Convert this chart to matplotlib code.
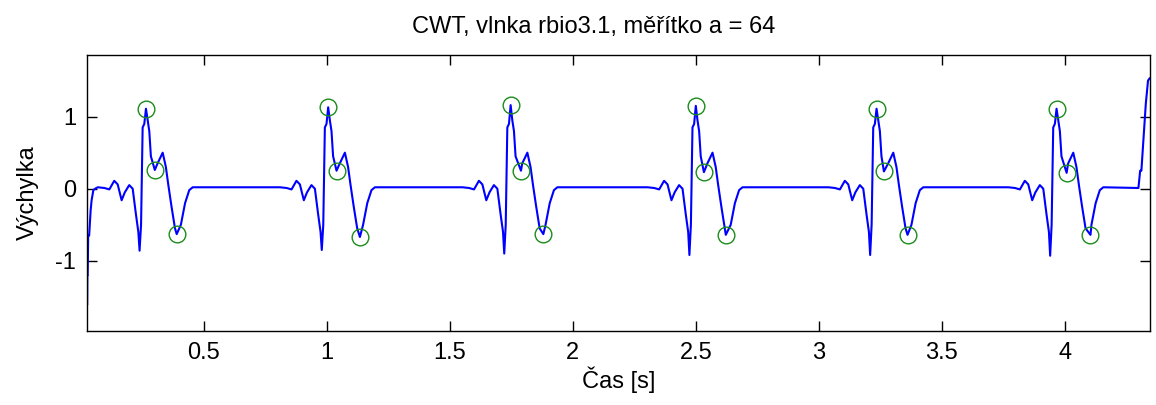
import numpy as np
import matplotlib
matplotlib.use("Agg")
import matplotlib.pyplot as plt

plt.rcParams['font.family'] = ['Liberation Sans', 'DejaVu Sans']

# Detected points per beat: R peak, notch after R, and S minimum
r_t = [0.264, 1.005, 1.747, 2.500, 3.235, 3.967]
r_v = [1.11, 1.13, 1.16, 1.15, 1.11, 1.11]
notch_t = [0.300, 1.039, 1.789, 2.533, 3.265, 4.008]
notch_v = [0.26, 0.25, 0.25, 0.23, 0.24, 0.22]
s_t = [0.389, 1.134, 1.880, 2.622, 3.361, 4.105]
s_v = [-0.63, -0.67, -0.63, -0.64, -0.64, -0.64]
q_v = [-0.86, -0.85, -0.90, -0.92, -0.92, -0.93]

# Shape of one beat around its R peak (offset in s, amplitude)
pre_dt = [-0.196, -0.169, -0.149, -0.129, -0.115, -0.099, -0.086, -0.068,
          -0.054, -0.041, -0.031, -0.020, -0.0135, -0.0068]
pre_v = [0.02, 0.01, -0.01, 0.11, 0.06, -0.16, -0.05, 0.05,
         0.0, -0.35, -0.60, -0.50, 0.85, 0.90]
q_dt = -0.026
mid_dt = [0.0068, 0.0135, 0.020]
mid_v = [0.95, 0.80, 0.45]
t_dt = [0.047, 0.068, 0.081, 0.091, 0.104, 0.118]
t_v = [0.35, 0.50, 0.30, 0.05, -0.25, -0.55]
post_dt = [0.142, 0.159, 0.176, 0.190]
post_v = [-0.50, -0.20, -0.02, 0.02]

# Edges of the record
start_t = [0.0250, 0.0256, 0.0270, 0.0290, 0.0330, 0.0390, 0.0430, 0.050, 0.057]
start_v = [-1.60, -1.20, -1.20, -0.65, -0.65, -0.30, -0.16, -0.02, 0.0]
end_t = [4.300, 4.307, 4.312, 4.320, 4.330, 4.339, 4.345]
end_v = [0.01, 0.25, 0.25, 0.67, 1.18, 1.50, 1.53]

# Assemble the coefficient trace
ts = list(start_t)
vs = list(start_v)
for i in range(len(r_t)):
    r = r_t[i]
    seg = []
    for dt, v in zip(pre_dt, pre_v):
        seg.append((r + dt, v))
    seg.append((r + q_dt, q_v[i]))
    seg.append((r, r_v[i]))
    for dt, v in zip(mid_dt, mid_v):
        seg.append((r + dt, v))
    seg.append((notch_t[i], notch_v[i]))
    for dt, v in zip(t_dt, t_v):
        seg.append((r + dt, v))
    seg.append((s_t[i], s_v[i]))
    for dt, v in zip(post_dt, post_v):
        seg.append((r + dt, v))
    seg.sort()
    ts += [p[0] for p in seg]
    vs += [p[1] for p in seg]
ts += end_t
vs += end_v

fig = plt.figure(figsize=(11.56, 4.05), dpi=100)
ax = fig.add_axes([0.0753, 0.1835, 0.9195, 0.6815])

ax.plot(ts, vs, color='#0000ff', lw=1.5)
mk_t = r_t + notch_t + s_t
mk_v = r_v + notch_v + s_v
ax.plot(mk_t, mk_v, 'o', ms=12, mfc='none', mec='#1a8c1a', mew=1.0)

ax.set_xlim(0.0244, 4.347)
ax.set_ylim(-1.97, 1.86)
ax.set_xticks([0.5, 1, 1.5, 2, 2.5, 3, 3.5, 4])
ax.set_xticklabels(['0.5', '1', '1.5', '2', '2.5', '3', '3.5', '4'])
ax.set_yticks([-1, 0, 1])
ax.set_yticklabels(['-1', '0', '1'])
ax.tick_params(direction='in', length=7, width=1, top=True, right=True,
               labelsize=17, pad=8)
for s in ax.spines.values():
    s.set_linewidth(1)

ax.set_xlabel('Čas [s]', fontsize=17, labelpad=2)
ax.set_ylabel('Výchylka', fontsize=17, labelpad=12)
ax.text(0.477, 1.06, 'CWT, vlnka rbio3.1, měřítko a = 64', transform=ax.transAxes,
        ha='center', va='bottom', fontsize=17)

fig.savefig('out.png', dpi=100)
